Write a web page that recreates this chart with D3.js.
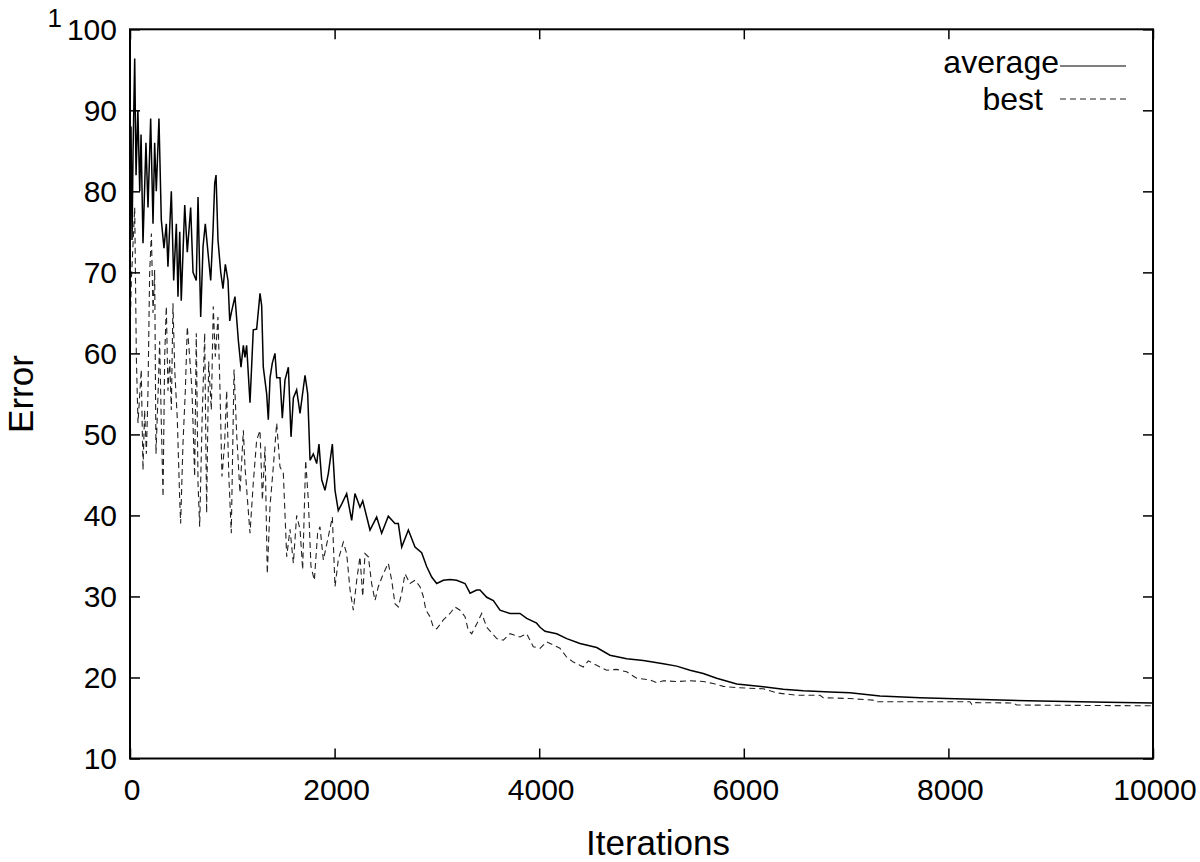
<!DOCTYPE html>
<html>
<head>
<meta charset="utf-8">
<script src="https://cdn.jsdelivr.net/npm/d3@7"></script>
<style>
html,body{margin:0;padding:0;background:#fff;}
svg{display:block;}
text{font-family:"Liberation Sans",Arial,Helvetica,sans-serif;fill:#000;}
</style>
</head>
<body>
<svg id="chart" width="1200" height="862"></svg>
<script>
// ---------- data ----------
const xTicks = [0, 2000, 4000, 6000, 8000, 10000];
const yTicks = [10, 20, 30, 40, 50, 60, 70, 80, 90, 100];
const seriesNames = ["average", "best"];

const averageIter = [0,10,20,30,46,59,77,95,108,127,156,176,202,225,241,257,283,306,332,355,371,404,427,453,469,486,501,535,560,593,616,648,665,691,714,736,762,789,811,828,841,860,887,909,932,958,975,990,1026,
1059,1085,1108,1124,1140,1173,1205,1238,1271,1287,1303,1336,1352,1369,1391,1417,1434,1466,1489,1515,1548,1574,1597,1629,1662,1694,1711,1737,1760,1792,1825,1847,1874,1906,1939,1978,2004,2036,2069,
2118,2167,2199,2248,2275,2346,2411,2460,2525,2590,2623,2656,2721,2786,2851,2900,2949,2998,3063,3128,3193,3275,3324,3389,3421,3487,3552,3617,3715,3812,3878,3975,
4008,4057,4171,4269,4399,4562,4692,4855,5018,5213,5344,5474,5604,5735,5931,6191,6386,6582,6843,7038,7331,7722,8240,8895,9547,10000];
const averageValue = [78,88,74,85,96.4,82,90,80,87,73.6,86,78,89,76,86,80,89,76.5,73,76,70.7,80,69,76,67,75,66.5,78.3,72.5,78,70,69,79.3,64.5,73.2,76,72.5,69,75,81,82,74,70,68,71,69,64,65,67,
61.6,58.3,61,59.5,61,53.9,62.9,63,67.4,65.9,58.3,55,51.8,57,58.8,60,57,57,52,56.7,58.3,49.7,54.5,55.5,52.6,55.7,57.3,55,46.8,47.6,46.4,48.8,44.4,43.1,45.2,48.8,43.1,40.6,41.4,
42.7,39.4,42.7,41,41.8,38.2,39.8,37.8,39.9,39,39,36.1,38.2,36.1,35.4,33.7,32.4,31.6,32,32.1,32,31.6,30.4,30.8,30.8,29.9,29.5,28.3,27.9,27.9,27.3,26.7,
26.2,25.7,25.4,24.8,24.2,23.7,22.75,22.3,22.1,21.7,21.4,20.9,20.5,19.9,19.2,18.85,18.55,18.35,18.2,18.1,17.7,17.5,17.3,17.1,16.95,16.85];

const bestIter = [0,13,46,62,78,110,127,143,160,176,192,209,225,241,254,274,290,306,323,339,355,371,388,404,420,437,462,486,495,518,541,560,583,606,632,648,665,681,704,730,749,769,795,814,834,860,880,899,925,945,965,990,1017,
1043,1075,1108,1124,1173,1205,1238,1271,1294,1320,1342,1369,1401,1434,1466,1499,1532,1564,1597,1629,1662,1688,1717,1743,1769,1802,1834,1857,1890,1939,1978,2004,2036,2085,
2118,2151,2183,2216,2248,2275,2297,2330,2362,2395,2427,2476,2525,2558,2590,2623,2656,2688,2737,2786,2835,2867,2893,2933,2965,2998,3063,3128,3177,3226,3275,3307,3340,3389,3438,3487,3585,3649,3715,3812,3878,3942,4008,
4073,4138,4203,4269,4334,4431,4480,4562,4660,4757,4855,4953,5083,5148,5213,5344,5474,5604,5702,5800,5931,6191,6321,6517,6745,6777,7038,7263,7299,8211,8228,8240,8631,8667,10000];
const bestValue = [62,69,78,59.6,51.4,58,45.6,53,47.6,55.4,69.9,74.8,65,70.3,47.6,54.9,61.5,51.4,42.3,59.6,65.8,55.4,59.2,53,66.2,58,52,41.9,39,48.9,55.4,63.3,59.6,55.4,44.8,62.5,44,38.6,51.4,62.5,40.3,59,53,65.8,59.6,64.5,55.4,44.8,48.9,55.4,45.2,37.8,58,
50,42.8,50.5,46,37.8,44,49.3,50.5,41.9,48.5,32.8,41.2,46,51.4,46,45.2,34.9,38.3,34.1,40,38.3,33.3,46.8,41.9,33.7,32,37.8,38.6,34.5,37.4,39.8,31.2,34.5,36.7,
35.3,30.8,28.3,32,34.9,30,35.3,34.9,31.6,29.5,31.2,32.8,34.1,32,29.1,28.7,30.4,32.8,31.6,32,31.2,30,28.3,27.5,26.2,26,27.1,27.9,28.7,28.3,27.5,25.8,25.4,26.6,27.9,26.2,24.8,24.6,25.4,25,25.4,23.8,23.6,
24.4,24,23.6,22.5,21.9,21.3,22.05,21.5,20.9,21,20.7,19.9,19.7,19.35,19.6,19.5,19.6,19.5,19.25,18.9,18.75,18.6,18.1,17.8,17.8,17.5,17.4,17.2,17.0,17.0,16.7,16.9,16.85,16.6,16.5];

(function () {
// ---------- layout ----------
const svg = d3.select("#chart");
const pLeft = 130, pRight = 1153, pTop = 29.3, pBottom = 758.5;
const x = d3.scaleLinear().domain([0, 10000]).range([pLeft, pRight]);
const y = d3.scaleLinear().domain([10, 100]).range([pBottom, pTop]);
const tickLen = 10;

// ---------- series ----------
const avgData = averageIter.map((d, i) => [d, averageValue[i]]);
const bestData = bestIter.map((d, i) => [d, bestValue[i]]);
const line = d3.line().x(d => x(d[0])).y(d => y(d[1]));

svg.append("path").datum(bestData)
  .attr("d", line).attr("fill", "none")
  .attr("stroke", "#222").attr("stroke-width", 1.1)
  .attr("stroke-dasharray", "6,4");

svg.append("path").datum(avgData)
  .attr("d", line).attr("fill", "none")
  .attr("stroke", "#000").attr("stroke-width", 1.5);

// ---------- axes (ticks inward, mirrored) ----------
const axB = d3.axisBottom(x).tickValues(xTicks).tickSize(-tickLen).tickFormat("");
const axT = d3.axisTop(x).tickValues(xTicks).tickSize(-tickLen).tickFormat("");
const axL = d3.axisLeft(y).tickValues(yTicks).tickSize(-tickLen).tickFormat("");
const axR = d3.axisRight(y).tickValues(yTicks).tickSize(-tickLen).tickFormat("");
[[axB, `translate(0,${pBottom})`], [axT, `translate(0,${pTop})`], [axL, `translate(${pLeft},0)`], [axR, `translate(${pRight},0)`]]
  .forEach(([ax, tr]) => {
    const g = svg.append("g").attr("transform", tr).call(ax);
    g.select(".domain").remove();
    g.selectAll("line").attr("stroke", "#000").attr("stroke-width", 1.5);
  });

// frame
svg.append("rect").attr("x", pLeft).attr("y", pTop)
  .attr("width", pRight - pLeft).attr("height", pBottom - pTop)
  .attr("fill", "none").attr("stroke", "#000").attr("stroke-width", 2);

// tick labels
svg.append("g").selectAll("text").data(yTicks).join("text")
  .attr("x", pLeft - 13).attr("y", d => y(d)).attr("dy", "0.36em")
  .attr("text-anchor", "end").attr("font-size", 30).text(d => d);
svg.append("g").selectAll("text").data(xTicks).join("text")
  .attr("x", d => x(d) + 2).attr("y", 800)
  .attr("text-anchor", "middle").attr("font-size", 30).text(d => d);

// stray superscript "1"
svg.append("text").attr("x", 62).attr("y", 27).attr("text-anchor", "end")
  .attr("font-size", 26).text("1");

// axis titles
svg.append("text").attr("x", 658).attr("y", 855).attr("text-anchor", "middle")
  .attr("font-size", 35).text("Iterations");
svg.append("text").attr("transform", "translate(33,394) rotate(-90)")
  .attr("text-anchor", "middle").attr("font-size", 35).text("Error");

// legend
const legend = [
  {name: seriesNames[0], ty: 73, ly: 66, tx: 1059, dash: null, stroke: "#000"},
  {name: seriesNames[1], ty: 110, ly: 99, tx: 1043, dash: "6,4", stroke: "#222"}
];
legend.forEach(l => {
  svg.append("text").attr("x", l.tx).attr("y", l.ty).attr("text-anchor", "end")
    .attr("font-size", 32).text(l.name);
  svg.append("line").attr("x1", 1060).attr("x2", 1126).attr("y1", l.ly).attr("y2", l.ly)
    .attr("stroke", l.stroke).attr("stroke-width", 1.2)
    .attr("stroke-dasharray", l.dash);
});
})();
</script>
</body>
</html>
